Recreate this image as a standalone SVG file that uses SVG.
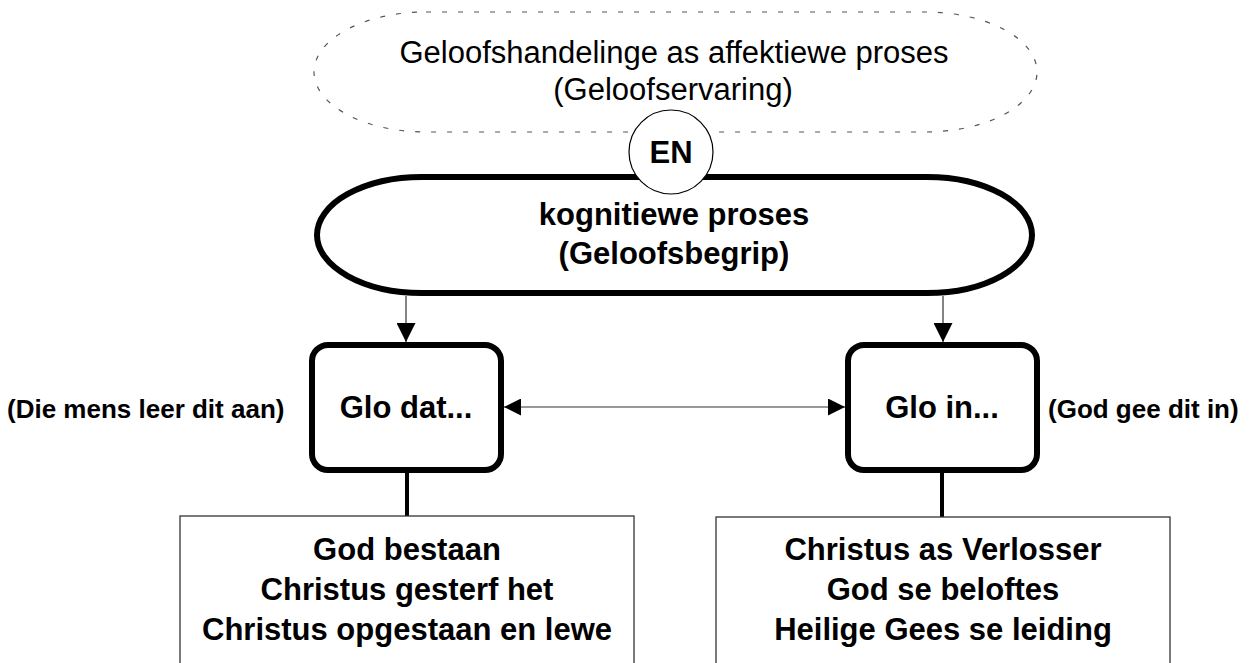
<svg xmlns="http://www.w3.org/2000/svg" width="1251" height="663" viewBox="0 0 1251 663">
<defs>
<style>
.t{font-family:"Liberation Sans",Arial,sans-serif;fill:#000}
.b{font-weight:bold;font-size:31px;text-anchor:middle}
.side{font-weight:bold;font-size:26px}
.top{font-size:31px;text-anchor:middle}
.box{fill:#fff;stroke:#000;stroke-width:6}
.thin{fill:#fff;stroke:#333;stroke-width:1.3}
.conn{stroke:#333;stroke-width:1.2;fill:none}
.thick{stroke:#000;stroke-width:4;fill:none}
</style>
<marker id="ahv" viewBox="0 0 10 10" refX="10" refY="5" markerWidth="19" markerHeight="19" markerUnits="userSpaceOnUse" orient="auto">
<path d="M0,0 L10,5 L0,10 z" fill="#000"/>
</marker>
<marker id="ahh" viewBox="0 0 10 10" refX="10" refY="5" markerWidth="17" markerHeight="17" markerUnits="userSpaceOnUse" orient="auto-start-reverse">
<path d="M0,0 L10,5 L0,10 z" fill="#000"/>
</marker>
</defs>
<rect width="1251" height="663" fill="#fff"/>

<g id="affektief">
<rect x="314" y="12" width="723" height="120" rx="112" ry="60" fill="#fff" stroke="#555" stroke-width="1.2" stroke-dasharray="5 11"/>
<text class="t top" x="674" y="63">Geloofshandelinge as affektiewe proses</text>
<text class="t top" x="673" y="100">(Geloofservaring)</text>
</g>

<g id="kognitief">
<rect x="317" y="177" width="715" height="116" rx="105" ry="58" class="box"/>
<text class="t b" x="674" y="225">kognitiewe proses</text>
<text class="t b" x="674" y="264">(Geloofsbegrip)</text>
</g>

<g id="en">
<circle cx="671" cy="152" r="42" fill="#fff" stroke="#000" stroke-width="1.2"/>
<text class="t b" x="671" y="163">EN</text>
</g>

<g id="connectors">
<line x1="406" y1="296" x2="406" y2="342" class="conn" marker-end="url(#ahv)"/>
<line x1="943" y1="296" x2="943" y2="342" class="conn" marker-end="url(#ahv)"/>
<line x1="504" y1="407" x2="845" y2="407" class="conn" marker-start="url(#ahh)" marker-end="url(#ahh)"/>
<line x1="407" y1="471" x2="407" y2="516" class="thick"/>
<line x1="942" y1="471" x2="942" y2="517" class="thick"/>
</g>

<g id="glo-dat">
<rect x="312" y="345" width="189" height="125" rx="16" class="box"/>
<text class="t b" x="406" y="418">Glo dat...</text>
</g>

<g id="glo-in">
<rect x="848" y="345" width="189" height="125" rx="16" class="box"/>
<text class="t b" x="942" y="418">Glo in...</text>
</g>

<g id="label-mens">
<text class="t side" x="7" y="418">(Die mens leer dit aan)</text>
</g>

<g id="label-god">
<text class="t side" x="1048" y="418">(God gee dit in)</text>
</g>

<g id="dat-lys">
<rect x="180" y="516" width="454" height="160" class="thin"/>
<text class="t b" x="407" y="560">God bestaan</text>
<text class="t b" x="407" y="600">Christus gesterf het</text>
<text class="t b" x="407" y="640">Christus opgestaan en lewe</text>
</g>

<g id="in-lys">
<rect x="716" y="517" width="454" height="160" class="thin"/>
<text class="t b" x="943" y="560">Christus as Verlosser</text>
<text class="t b" x="943" y="600">God se beloftes</text>
<text class="t b" x="943" y="640">Heilige Gees se leiding</text>
</g>
</svg>
